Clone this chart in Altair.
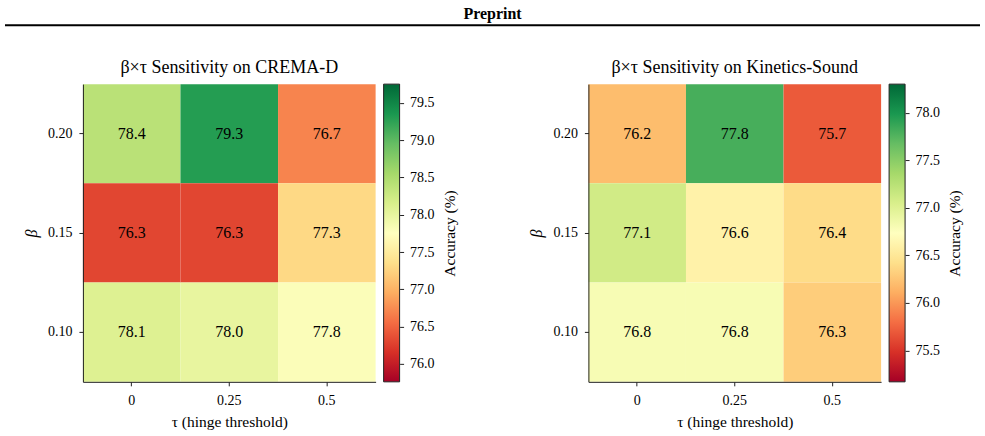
import altair as alt
import pandas as pd

taus = ["0", "0.25", "0.5"]
betas = ["0.20", "0.15", "0.10"]
crema_vals = [[78.4, 79.3, 76.7],
              [76.3, 76.3, 77.3],
              [78.1, 78.0, 77.8]]
ks_vals = [[76.2, 77.8, 75.7],
           [77.1, 76.6, 76.4],
           [76.8, 76.8, 76.3]]
crema_range = [75.76, 79.75]
ks_range = [75.17, 78.30]
crema_ticks = [76.0, 76.5, 77.0, 77.5, 78.0, 78.5, 79.0, 79.5]
ks_ticks = [75.5, 76.0, 76.5, 77.0, 77.5, 78.0]
rdylgn = ["#a50026", "#d73027", "#f46d43", "#fdae61", "#fee08b", "#ffffbf",
          "#d9ef8b", "#a6d96a", "#66bd63", "#1a9850", "#006837"]

FONT = "Liberation Serif"
W, H = 293, 298


def panel(title, vals, rng, ticks, header=False):
    df = pd.DataFrame([{"beta": b, "tau": t, "acc": vals[i][j]}
                       for i, b in enumerate(betas) for j, t in enumerate(taus)])
    lo, hi = rng
    dom = [lo + k * (hi - lo) / 10 for k in range(11)]
    x = alt.X("tau:N", sort=taus,
              scale=alt.Scale(paddingInner=0, paddingOuter=0),
              axis=alt.Axis(title="τ (hinge threshold)", labelAngle=0, labelFontSize=14,
                            labelFont=FONT, titleFont=FONT,
                            titleFontSize=15.5, titleFontWeight="normal", tickSize=4,
                            labelPadding=8, titlePadding=7, domainColor="#222",
                            tickColor="#222", labelColor="black", titleColor="black"))
    y = alt.Y("beta:N", sort=betas,
              scale=alt.Scale(paddingInner=0, paddingOuter=0),
              axis=alt.Axis(title="β", titleFontStyle="italic", labelFontSize=14,
                            labelFont=FONT, titleFont=FONT,
                            titleFontSize=16, titleFontWeight="normal", tickSize=4,
                            labelPadding=7, titlePadding=8, domainColor="#222",
                            tickColor="#222", labelColor="black", titleColor="black"))
    rect = alt.Chart(df).mark_rect().encode(
        x=x, y=y,
        color=alt.Color("acc:Q", scale=alt.Scale(domain=dom, range=rdylgn, interpolate="rgb"),
                        legend=None))
    text = alt.Chart(df).mark_text(fontSize=16, color="black", font=FONT).encode(
        x=alt.X("tau:N", sort=taus), y=alt.Y("beta:N", sort=betas),
        text=alt.Text("acc:Q", format=".1f"))
    heat = alt.layer(rect, text)
    cbdf = pd.DataFrame({"lo": [lo], "hi": [hi]})
    grad = alt.LinearGradient(
        gradient="linear",
        stops=[alt.GradientStop(offset=k / 10, color=c) for k, c in enumerate(rdylgn)],
        x1=0, x2=0, y1=1, y2=0)
    cb = alt.Chart(cbdf).mark_rect(fill=grad, stroke="#222", strokeWidth=1).encode(
        x=alt.value(W + 8), x2=alt.value(W + 24),
        y=alt.Y("lo:Q", scale=alt.Scale(domain=[lo, hi], nice=False, zero=False),
                axis=alt.Axis(orient="right", offset=24, values=ticks, format=".1f",
                              title="Accuracy (%)", titleAngle=270, titleBaseline="top",
                              labelFontSize=14, labelFont=FONT, titleFont=FONT,
                              titleFontSize=15.5, titleFontWeight="normal", tickSize=4,
                              labelPadding=6, titlePadding=8, domain=False,
                              tickColor="#222", labelColor="black", titleColor="black",
                              grid=False)),
        y2="hi:Q")
    hdf = pd.DataFrame({"a": [0]})
    ttl = alt.Chart(hdf).mark_text(text=title, fontSize=18, font=FONT, color="black",
                                   baseline="middle", align="center").encode(
        x=alt.value(W / 2), y=alt.value(-16))
    layers = [heat, cb, ttl]
    if header:
        rule = alt.Chart(hdf).mark_rule(color="black", strokeWidth=2).encode(
            x=alt.value(-78), x2=alt.value(898), y=alt.value(-59))
        htxt = alt.Chart(hdf).mark_text(text="Preprint", fontWeight="bold", fontSize=16,
                                        font=FONT, color="black", baseline="middle").encode(
            x=alt.value(410), y=alt.value(-70))
        layers += [rule, htxt]
    return alt.layer(*layers).resolve_scale(y="independent").properties(width=W, height=H)


p1 = panel("β×τ Sensitivity on CREMA-D", crema_vals, crema_range, crema_ticks, header=True)
p2 = panel("β×τ Sensitivity on Kinetics-Sound", ks_vals, ks_range, ks_ticks)

chart = alt.hconcat(p1, p2, spacing=213, bounds="flush").resolve_scale(
    color="independent", y="independent", x="independent"
).properties(
    padding={"left": 4, "top": 6, "right": 4, "bottom": 4}
).configure(font=FONT).configure_view(stroke=None)

chart.save("out.html", embed_options={"renderer": "svg", "actions": False})
